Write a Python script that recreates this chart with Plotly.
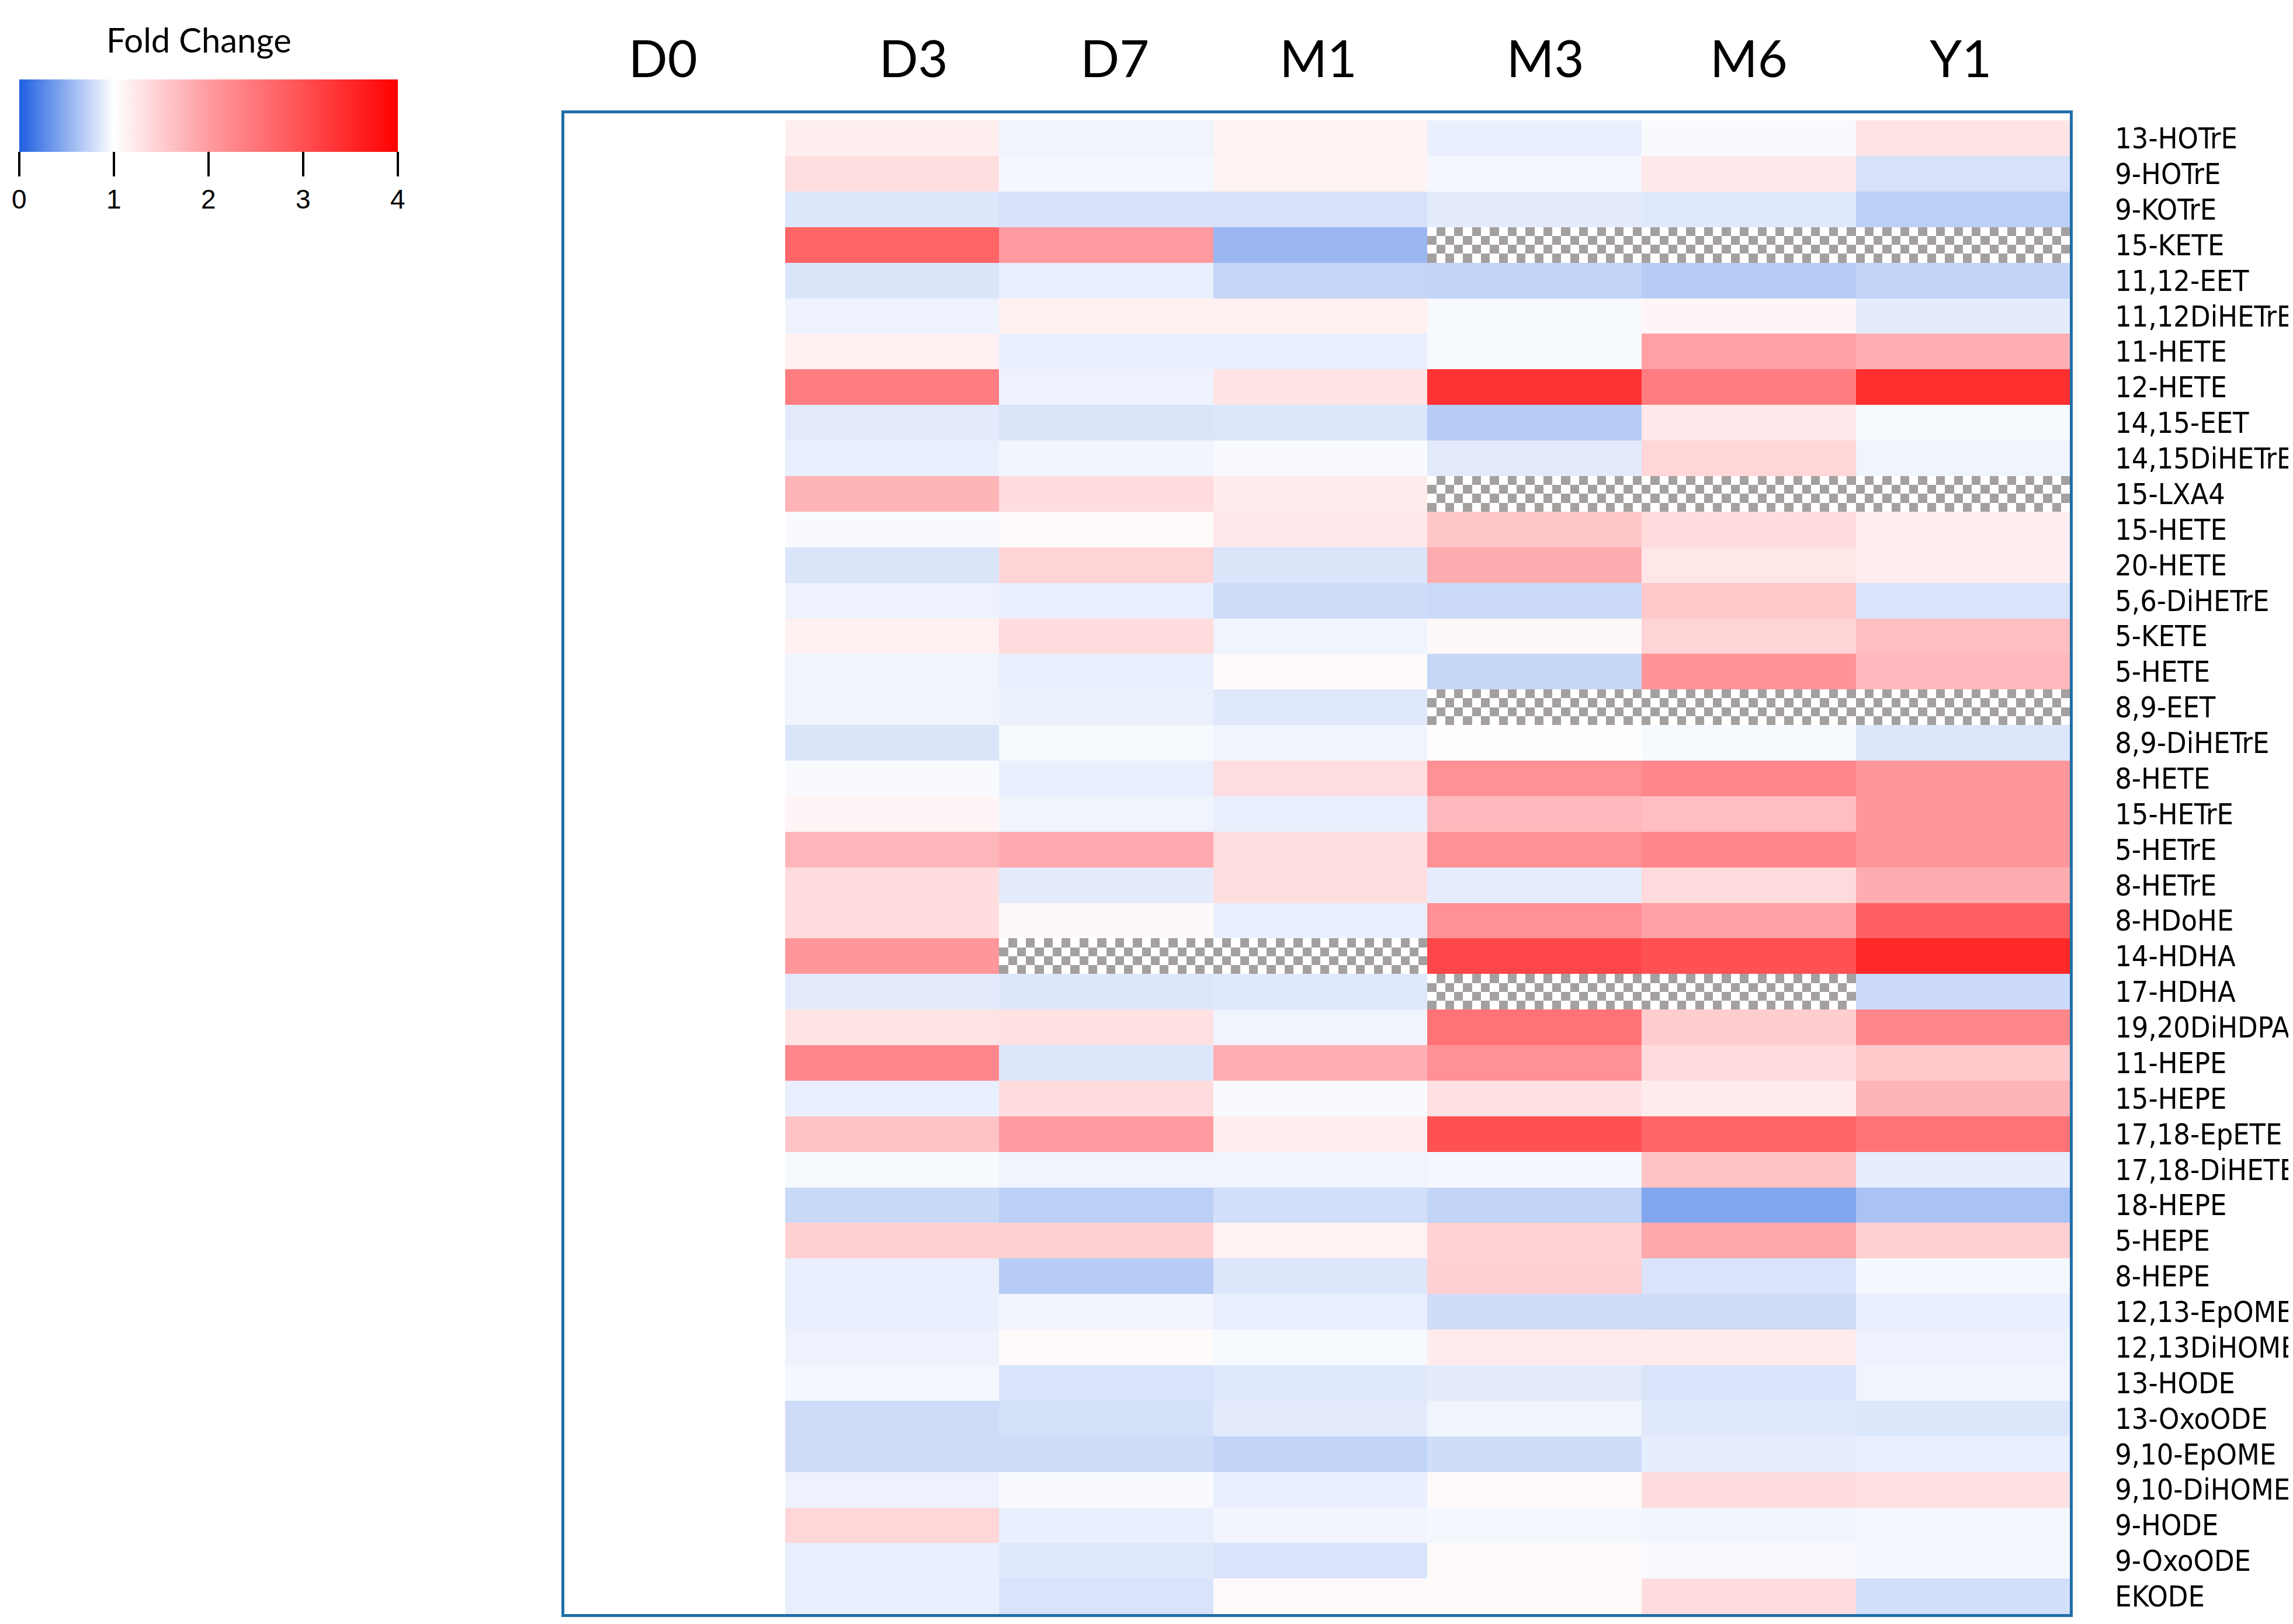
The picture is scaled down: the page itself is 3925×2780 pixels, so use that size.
import numpy as np
import plotly.graph_objects as go

lipids = ["13-HOTrE", "9-HOTrE", "9-KOTrE", "15-KETE", "11,12-EET", "11,12DiHETrE",
          "11-HETE", "12-HETE", "14,15-EET", "14,15DiHETrE", "15-LXA4", "15-HETE",
          "20-HETE", "5,6-DiHETrE", "5-KETE", "5-HETE", "8,9-EET", "8,9-DiHETrE",
          "8-HETE", "15-HETrE", "5-HETrE", "8-HETrE", "8-HDoHE", "14-HDHA",
          "17-HDHA", "19,20DiHDPA", "11-HEPE", "15-HEPE", "17,18-EpETE", "17,18-DiHETE",
          "18-HEPE", "5-HEPE", "8-HEPE", "12,13-EpOME", "12,13DiHOME", "13-HODE",
          "13-OxoODE", "9,10-EpOME", "9,10-DiHOME", "9-HODE", "9-OxoODE", "EKODE"]

timepoints = ["D0", "D3", "D7", "M1", "M3", "M6", "Y1"]

# fold change vs D0 (None = not measured)
d0 = [1.0, 1.0, 1.0, 1.0, 1.0, 1.0, 1.0, 1.0, 1.0, 1.0, 1.0, 1.0, 1.0, 1.0,
      1.0, 1.0, 1.0, 1.0, 1.0, 1.0, 1.0, 1.0, 1.0, 1.0, 1.0, 1.0, 1.0, 1.0,
      1.0, 1.0, 1.0, 1.0, 1.0, 1.0, 1.0, 1.0, 1.0, 1.0, 1.0, 1.0, 1.0, 1.0]
d3 = [1.17, 1.33, 0.85, 2.73, 0.84, 0.92, 1.15, 2.4, 0.87, 0.9, 1.75, 0.97, 0.84, 0.92,
      1.15, 0.93, 0.93, 0.84, 0.97, 1.1, 1.73, 1.35, 1.35, 2.07, 0.87, 1.27, 2.27, 0.9,
      1.6, 0.96, 0.76, 1.47, 0.9, 0.9, 0.92, 0.95, 0.78, 0.78, 0.92, 1.4, 0.9, 0.9]
d7 = [0.93, 0.95, 0.82, 2.0, 0.9, 1.15, 0.9, 0.92, 0.84, 0.94, 1.35, 1.05, 1.43, 0.9,
      1.35, 0.9, 0.91, 0.96, 0.9, 0.93, 1.85, 0.88, 1.07, None, 0.85, 1.3, 0.85, 1.35,
      2.0, 0.93, 0.7, 1.47, 0.68, 0.94, 1.05, 0.83, 0.81, 0.78, 0.97, 0.9, 0.86, 0.83]
m1 = [1.12, 1.13, 0.82, 0.55, 0.74, 1.15, 0.9, 1.27, 0.85, 0.97, 1.2, 1.23, 0.84, 0.78,
      0.93, 1.05, 0.86, 0.93, 1.33, 0.9, 1.33, 1.33, 0.9, None, 0.86, 0.93, 1.8, 0.97,
      1.17, 0.93, 0.8, 1.13, 0.85, 0.9, 0.96, 0.86, 0.87, 0.73, 0.9, 0.94, 0.83, 1.05]
m3 = [0.9, 0.95, 0.88, None, 0.73, 0.96, 0.96, 3.37, 0.68, 0.87, None, 1.57, 1.83, 0.77,
      1.07, 0.75, None, 1.02, 2.13, 1.7, 2.13, 0.89, 2.13, 3.12, None, 2.53, 2.13, 1.3,
      3.0, 0.95, 0.73, 1.45, 1.47, 0.79, 1.2, 0.88, 0.93, 0.79, 1.05, 0.95, 1.05, 1.04]
m6 = [0.97, 1.23, 0.86, None, 0.68, 1.1, 1.95, 2.4, 1.23, 1.4, None, 1.35, 1.25, 1.55,
      1.43, 2.1, None, 0.96, 2.27, 1.65, 2.27, 1.37, 1.95, 3.0, None, 1.5, 1.35, 1.2,
      2.73, 1.6, 0.45, 1.87, 0.83, 0.78, 1.2, 0.83, 0.86, 0.89, 1.35, 0.94, 0.97, 1.35]
y1 = [1.27, 0.82, 0.7, None, 0.73, 0.88, 1.8, 3.43, 0.96, 0.93, None, 1.17, 1.17, 0.83,
      1.65, 1.7, None, 0.85, 2.07, 2.07, 2.07, 1.83, 2.8, 3.5, 0.77, 2.27, 1.55, 1.75,
      2.53, 0.89, 0.62, 1.47, 0.95, 0.9, 0.92, 0.93, 0.85, 0.9, 1.3, 0.95, 0.95, 0.8]

z = np.array([d0, d3, d7, m1, m3, m6, y1], dtype=float).T
nr, nc = z.shape
missing = np.isnan(z)

# checkered fill for missing cells, on a finer grid over the same axes
k, m = 24, 4
fine_x = -0.5 + (np.arange(nc * k) + 0.5) / k
fine_y = -0.5 + (np.arange(nr * m) + 0.5) / m
mask = np.kron(missing.astype(float), np.ones((m, k))) > 0
parity = np.add.outer(np.arange(nr * m), np.arange(nc * k)) % 2
checker = np.where(mask, parity, np.nan)

W, H = 3925, 2780
# header labels sit slightly off the column centres in the original
header_pos = [-0.07, 1.1, 2.04, 2.99, 4.05, 5.0, 5.99]

fig = go.Figure()
fig.add_trace(go.Heatmap(
    z=z, x=list(range(nc)), y=list(range(nr)),
    zmin=0, zmax=4, hoverongaps=False,
    colorscale=[[0, "rgb(30,95,225)"], [0.25, "rgb(255,255,255)"],
                [0.5, "rgb(255,155,160)"], [0.75, "rgb(255,80,82)"], [1, "rgb(255,0,0)"]],
    colorbar=dict(
        orientation="h", lenmode="pixels", len=648, thickness=124,
        x=25 / W, xanchor="left", y=1 - 128 / H, yanchor="top",
        xpad=0, ypad=0, outlinewidth=0,
        tickvals=[0, 1, 2, 3, 4], ticks="outside", ticklen=42, tickwidth=4,
        tickcolor="black",
        tickfont=dict(size=46, family="Liberation Sans, Arial", color="black"),
    ),
))
fig.add_trace(go.Heatmap(
    z=checker, x=fine_x, y=fine_y, zmin=0, zmax=1, showscale=False,
    hoverinfo="skip",
    colorscale=[[0, "white"], [1, "rgb(165,160,160)"]],
))

fig.add_annotation(
    text="Fold Change", xref="paper", yref="paper",
    x=335 / W, y=1 - 60 / H, xanchor="center", yanchor="middle", showarrow=False,
    font=dict(size=58, family="Lato, Calibri, sans-serif", color="black"),
)

border = "#1F6FA8"
fig.update_layout(
    width=W, height=H,
    margin=dict(l=0, r=0, t=0, b=0),
    paper_bgcolor="white", plot_bgcolor="white",
    xaxis=dict(
        domain=[964 / W, 3557 / W], range=[-0.53, 6.5], side="top",
        tickvals=header_pos, ticktext=timepoints, ticks="",
        ticklabelstandoff=22,
        tickfont=dict(size=88, family="Lato, Calibri, sans-serif", color="black"),
        showgrid=False, zeroline=False,
        showline=True, mirror=True, linecolor=border, linewidth=5,
    ),
    yaxis=dict(
        domain=[1 - 2755 / H, 1 - 186 / H], range=[41.5, -0.7], side="right",
        tickvals=list(range(nr)), ticktext=lipids, ticks="",
        ticklabelstandoff=62,
        tickfont=dict(size=50, family="Liberation Sans Narrow, Arial Narrow, DejaVu Sans Condensed, sans-serif",
                      color="black"),
        showgrid=False, zeroline=False,
        showline=True, mirror=True, linecolor=border, linewidth=5,
    ),
)

fig.write_html("out.html")
